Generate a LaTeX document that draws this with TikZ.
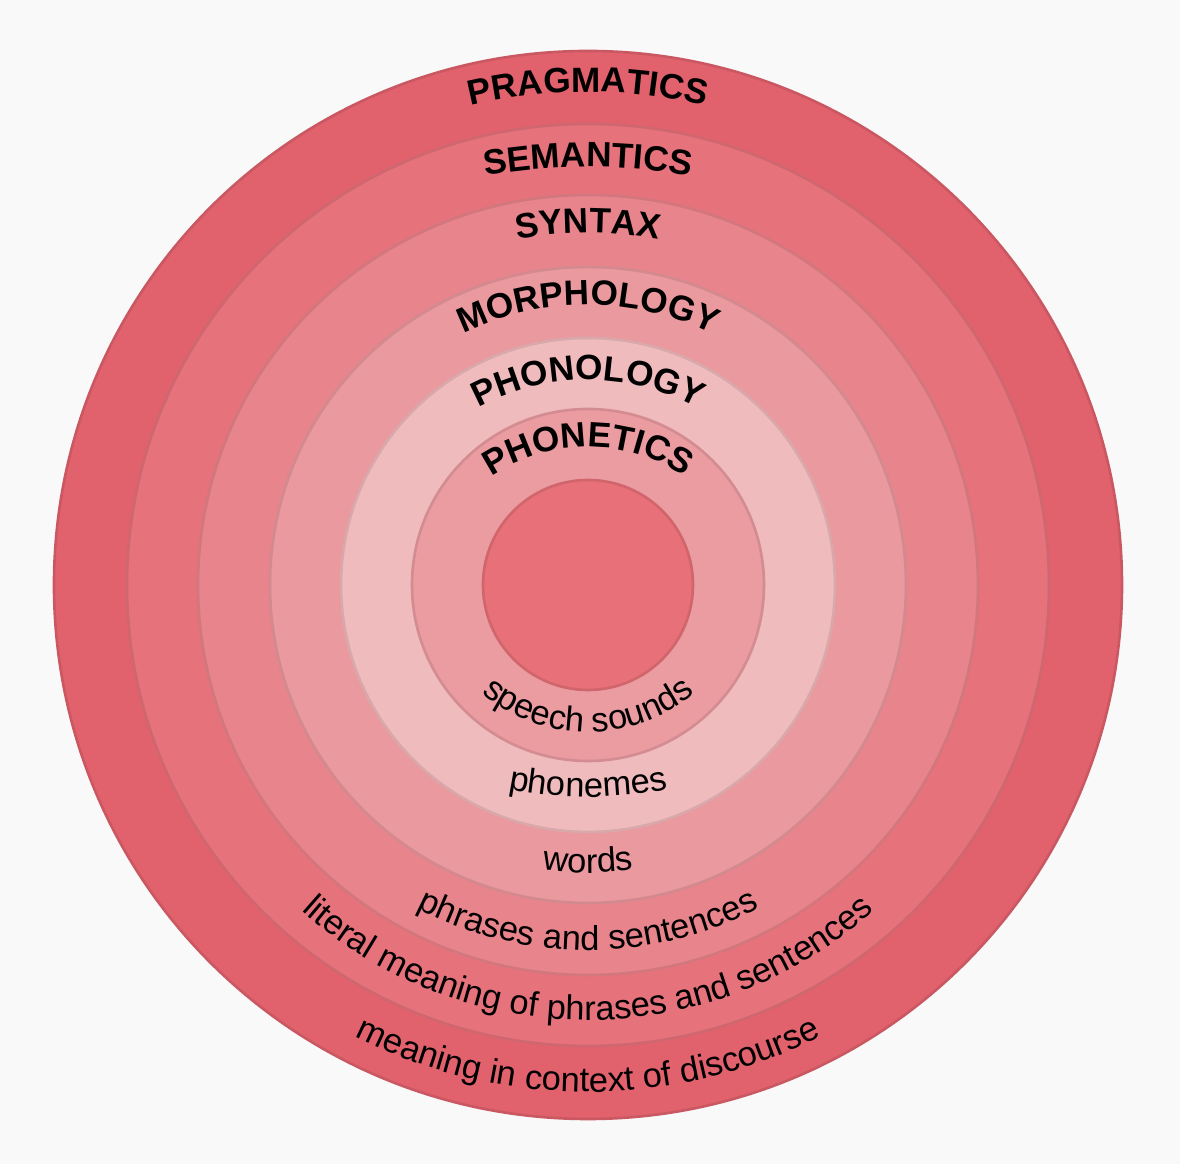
\documentclass[tikz,border=0pt]{standalone}
\usepackage{fontspec}
\setmainfont{Liberation Sans}
\usetikzlibrary{decorations.text}
\definecolor{paper}{HTML}{FAF9F9}
\definecolor{ringg}{HTML}{E1626D}
\definecolor{ringf}{HTML}{E6727C}
\definecolor{ringe}{HTML}{E8848B}
\definecolor{ringd}{HTML}{EA999F}
\definecolor{ringc}{HTML}{F0BBBD}
\definecolor{ringb}{HTML}{EA9CA1}
\definecolor{ringa}{HTML}{E87078}
\newcommand\capsfont{\fontsize{20}{24}\selectfont\bfseries}
\newcommand\lowfont{\fontsize{19.6}{23}\selectfont}

\begin{document}
\begin{tikzpicture}[x=0.2mm, y=0.2mm,
  ring/.style={fill=#1, draw=black!10!#1, line width=1.5pt},
  toplabel/.style={decoration={text along path, text align=center, text={|\capsfont|#1}}, decorate},
  botlabel/.style={decoration={text along path, text align=center, text={|\lowfont|#1}}, decorate}]
\fill [paper] (-588,-579) rectangle (592,585);
\useasboundingbox (-588,-579) rectangle (592,585);
\coordinate (c) at (0,0);
\draw [ring=ringg] (c) circle (534);
\draw [ring=ringf] (c) circle (461);
\draw [ring=ringe] (c) circle (390);
\draw [ring=ringd] (c) circle (318);
\draw [ring=ringc] (c) circle (247);
\draw [ring=ringb] (c) circle (176);
\draw [ring=ringa] (c) circle (105);
\path [toplabel=PRAGMATICS] (0,0) ++(120:493) arc [start angle=120, end angle=60, radius=493];
\path [toplabel=SEMANTICS] (0,-182) ++(120:600) arc [start angle=120, end angle=60, radius=600];
\path [toplabel=SYNTAX] (0,-8) ++(120:360) arc [start angle=120, end angle=60, radius=360];
\path [toplabel=MORPHOLOGY] (0,-4) ++(150:284) arc [start angle=150, end angle=30, radius=284];
\path [toplabel=PHONOLOGY] (0,-24) ++(150:229) arc [start angle=150, end angle=30, radius=229];
\path [toplabel=PHONETICS] (0,-34) ++(150:172) arc [start angle=150, end angle=30, radius=172];
\path [botlabel=speech sounds] (0,20) ++(210:167) arc [start angle=210, end angle=330, radius=167];
\path [botlabel=phonemes] (0,188) ++(240:400) arc [start angle=240, end angle=300, radius=400];
\path [botlabel=words] (0,12) ++(240:300) arc [start angle=240, end angle=300, radius=300];
\path [botlabel=phrases and sentences] (0,8) ++(210:373) arc [start angle=210, end angle=330, radius=373];
\path [botlabel=literal meaning of phrases and sentences] (0,-5) ++(200:430) arc [start angle=200, end angle=340, radius=430];
\path [botlabel=meaning in context of discourse] (0,13) ++(220:520) arc [start angle=220, end angle=320, radius=520];
\end{tikzpicture}
\end{document}
